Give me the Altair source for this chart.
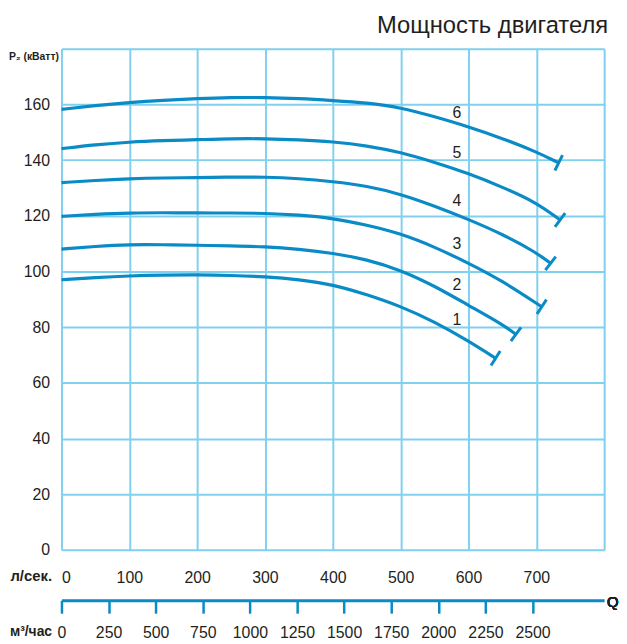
import math
import altair as alt
import pandas as pd

# ---- data ----
CURVE_NAMES = ["1", "2", "3", "4", "5", "6"]

q1 = [0, 50, 100, 150, 200, 250, 300, 350, 400, 450, 500, 550, 600, 640]
p1 = [97.0, 97.8, 98.4, 98.7, 98.8, 98.6, 98.1, 97.1, 95.3, 91.7, 87.5, 81.9, 75.0, 68.8]

q2 = [0, 50, 100, 150, 200, 250, 300, 350, 400, 450, 500, 550, 600, 650, 670]
p2 = [108.0, 109.0, 109.7, 109.6, 109.4, 109.2, 108.9, 108.0, 106.6, 104.3, 100.5, 94.8, 87.8, 81.0, 77.4]

q3 = [0, 50, 100, 150, 200, 250, 300, 350, 400, 450, 500, 550, 600, 650, 708]
p3 = [119.8, 120.5, 121.0, 121.1, 121.0, 121.0, 120.9, 120.3, 119.1, 116.7, 113.6, 108.8, 103.0, 96.6, 87.3]

q4 = [0, 50, 100, 150, 200, 250, 300, 350, 400, 450, 500, 550, 600, 650, 700, 721]
p4 = [131.9, 132.7, 133.3, 133.6, 133.7, 133.9, 133.9, 133.4, 132.3, 130.7, 127.8, 123.5, 118.7, 113.4, 106.8, 102.9]

q5 = [0, 50, 100, 150, 200, 250, 300, 350, 400, 450, 500, 550, 600, 650, 700, 735]
p5 = [144.1, 145.5, 146.5, 147.0, 147.3, 147.7, 147.7, 147.3, 146.6, 145.2, 142.8, 139.2, 135.2, 130.3, 124.8, 118.5]

q6 = [0, 50, 100, 150, 200, 250, 300, 350, 400, 450, 500, 550, 600, 650, 700, 733]
p6 = [158.2, 159.6, 160.7, 161.5, 162.1, 162.5, 162.5, 162.1, 161.4, 160.6, 158.9, 155.6, 152.0, 147.8, 143.0, 139.0]

LABEL_Q = [583, 583, 583, 583, 583, 583]
LABEL_P = [82.7, 95.2, 109.8, 125.4, 142.6, 156.8]

LS_TICKS = [0, 100, 200, 300, 400, 500, 600, 700, 800]
KW_TICKS = [0, 20, 40, 60, 80, 100, 120, 140, 160, 180]
M3_TICKS = [0, 250, 500, 750, 1000, 1250, 1500, 1750, 2000, 2250, 2500]

# ---- layout / style ----
W, H = 548, 506
BLUE = "#0a8bc6"
GRID = "#80d0f0"
BG = "#e6e7e8"
TXT = "#231f20"
FONT = "Liberation Sans"

curves_q = [q1, q2, q3, q4, q5, q6]
curves_p = [p1, p2, p3, p4, p5, p6]

rows, ends = [], []
for name, qs, ps in zip(CURVE_NAMES, curves_q, curves_p):
    for i, (q, p) in enumerate(zip(qs, ps)):
        rows.append({"curve": name, "Q": q, "P": p, "o": i})
    dx = (qs[-1] - qs[-2]) * W / 800
    dy = (ps[-2] - ps[-1]) * H / 180
    ang = math.degrees(math.atan2(dy, dx)) + 90
    ends.append({"curve": name, "Q": qs[-1], "P": ps[-1], "ang": ang})

df = pd.DataFrame(rows)
df_end = pd.DataFrame(ends)
df_lab = pd.DataFrame({"curve": CURVE_NAMES, "Q": LABEL_Q, "P": LABEL_P})
df_m3 = pd.DataFrame({"m3": M3_TICKS})

x_ls = alt.X(
    "Q:Q",
    scale=alt.Scale(domain=[0, 800], nice=False, zero=True),
    axis=alt.Axis(
        values=LS_TICKS,
        labelExpr="datum.value >= 800 ? '' : datum.label",
        grid=True, gridColor=GRID, gridWidth=2, gridOpacity=1,
        domain=False, ticks=False,
        labelPadding=20, labelFontSize=16, labelColor=TXT, labelFont=FONT,
        title="л/сек.", titleFont=FONT, titleFontSize=15, titleFontWeight="bold",
        titleColor=TXT, titleAlign="right", titleBaseline="middle",
        titleX=-10, titleY=26, titleAnchor="start",
    ),
)
y_kw = alt.Y(
    "P:Q",
    scale=alt.Scale(domain=[0, 180], nice=False, zero=True),
    axis=alt.Axis(
        values=KW_TICKS,
        labelExpr="datum.value >= 180 ? '' : datum.label",
        grid=True, gridColor=GRID, gridWidth=2, gridOpacity=1,
        domain=False, ticks=False,
        labelPadding=12, labelFontSize=16, labelColor=TXT, labelFont=FONT,
        title="P₂ (кВатт)", titleFont=FONT, titleFontSize=10.5, titleFontWeight="bold",
        titleColor=TXT, titleAngle=0, titleAlign="right", titleBaseline="middle",
        titleX=-3, titleY=8, titleAnchor="start",
    ),
)

lines = alt.Chart(df).mark_line(
    color=BLUE, strokeWidth=3.2, interpolate="basis"
).encode(x=x_ls, y=y_kw, detail="curve:N", order="o:Q")

end_ticks = alt.Chart(df_end).mark_point(
    shape="stroke", size=300, strokeWidth=3, color=BLUE, filled=False, opacity=1
).encode(x="Q:Q", y="P:Q", angle=alt.Angle("ang:Q", scale=None))

labels = alt.Chart(df_lab).mark_text(
    fontSize=16, font=FONT, color=TXT, align="center", baseline="middle"
).encode(x="Q:Q", y="P:Q", text="curve:N")

layer_a = alt.layer(lines, end_ticks, labels)

x_m3 = alt.X(
    "m3:Q",
    scale=alt.Scale(domain=[0, 2880], nice=False, zero=True),
    axis=alt.Axis(
        orient="bottom", offset=51, values=M3_TICKS, format="d",
        domain=True, domainColor=BLUE, domainWidth=3,
        ticks=True, tickColor=BLUE, tickSize=13, tickWidth=2.5,
        grid=False,
        labelPadding=12, labelFontSize=16, labelColor=TXT, labelFont=FONT,
        labelFlush=False, labelOverlap=False,
        title="м³/час", titleFont=FONT, titleFontSize=14, titleFontWeight="bold",
        titleColor=TXT, titleAlign="right", titleBaseline="middle",
        titleX=-10, titleY=32, titleAnchor="start",
    ),
)
m3_axis = alt.Chart(df_m3).mark_point(opacity=0).encode(x=x_m3, y=alt.value(0))
q_text = alt.Chart(df_m3).mark_text(
    text="Q", fontSize=15, font=FONT, color=TXT, align="left", baseline="middle", dx=3, dy=2
).encode(x=alt.datum(2880), y=alt.value(H + 51))
layer_b = alt.layer(m3_axis, q_text)

chart = (
    alt.layer(layer_a, layer_b)
    .resolve_scale(x="independent")
    .properties(
        width=W, height=H,
        autosize=alt.AutoSizeParams(type="none"),
        padding={"left": 54, "top": 38, "right": 15, "bottom": 92},
        title=alt.TitleParams(
            "Мощность двигателя", anchor="end", frame="group", fontSize=24,
            fontWeight="normal", font=FONT, color=TXT, offset=8, dx=4,
        ),
    )
    .configure_view(stroke=GRID, strokeWidth=2, fill=BG)
    .configure(background="white")
)

chart.save("out.html", embed_options={"renderer": "svg", "actions": False})
